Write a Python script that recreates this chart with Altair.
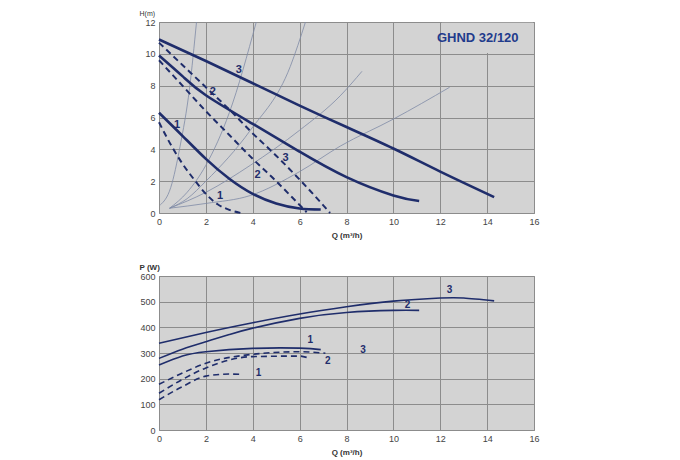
import altair as alt
import pandas as pd

# ---------------- top chart: H (m) vs Q (m3/h) ----------------
h3_q = [0, 2, 4, 6, 8, 10, 12, 14.3]
h3_h = [10.9, 9.55, 8.15, 6.75, 5.4, 4.05, 2.6, 1.0]
h2_q = [0, 1, 2, 4, 6, 8, 10, 11.1]
h2_h = [9.9, 8.6, 7.4, 5.6, 3.85, 2.25, 1.1, 0.75]
h1_q = [0, 1, 2, 3, 4, 5, 6, 6.9]
h1_h = [6.3, 4.85, 3.4, 2.15, 1.2, 0.6, 0.28, 0.22]

hd3_q = [0, 1, 2, 3, 4, 5, 6, 7, 7.3]
hd3_h = [10.7, 9.3, 7.9, 6.5, 5.0, 3.6, 2.1, 0.5, 0.0]
hd2_q = [0, 1, 2, 3, 4, 5, 6, 6.3]
hd2_h = [9.6, 8.0, 6.4, 4.9, 3.4, 2.0, 0.5, 0.05]
hd1_q = [0, 0.5, 1, 1.5, 2, 2.5, 3, 3.5]
hd1_h = [5.7, 4.3, 3.1, 2.1, 1.2, 0.55, 0.2, 0.0]

# thin system curves
sa_q = [0.05, 0.5, 0.9, 1.3, 1.6]
sa_h = [0.5, 1.6, 4.2, 7.8, 12.0]
sb_q = [0.45, 1.2, 2.0, 3.0, 4.15]
sb_h = [0.3, 1.3, 3.0, 6.3, 12.0]
sc_q = [0.45, 1.2, 2.0, 3.9, 5.6, 6.25]
sc_h = [0.3, 0.9, 2.0, 5.2, 9.2, 12.0]
sd_q = [0.45, 2.0, 3.9, 6.0, 7.73, 8.66]
sd_h = [0.3, 1.3, 3.0, 5.2, 7.36, 8.9]
se_q = [0.45, 2.0, 3.9, 6.0, 7.73, 10.0, 12.4]
se_h = [0.3, 0.6, 1.1, 2.6, 4.2, 5.9, 7.9]

top_lab_text = ["3", "2", "1", "3", "2", "1"]
top_lab_q = [3.4, 2.3, 0.77, 5.4, 4.2, 2.6]
top_lab_h = [9.0, 7.6, 5.5, 3.45, 2.4, 1.07]

# ---------------- bottom chart: P (W) vs Q ----------------
p3_q = [0, 2, 4, 6, 8, 10, 12, 13, 14.3]
p3_p = [338, 380, 418, 452, 480, 502, 514, 514, 503]
p2_q = [0, 1, 2, 3, 4, 6, 8, 10, 11.1]
p2_p = [279, 315, 344, 372, 397, 435, 458, 466, 466]
p1_q = [0, 1, 2, 4, 6, 6.9]
p1_p = [253, 288, 305, 318, 319, 313]
pd3_q = [0, 1, 2, 4, 6, 7.1]
pd3_p = [178, 222, 260, 295, 305, 299]
pd2_q = [0, 1, 2, 4, 6, 6.3]
pd2_p = [143, 197, 242, 286, 288, 283]
pd1_q = [0, 1, 2, 3, 3.5]
pd1_p = [118, 169, 210, 218, 217]

bot_lab_text = ["3", "2", "1", "2", "3", "1"]
bot_lab_q = [12.4, 10.6, 6.45, 7.2, 8.7, 4.25]
bot_lab_p = [545, 487, 350, 270, 312, 223]

NAVY = "#1f2d6b"
THIN = "#7f8aa6"
BG = "#d3d3d3"
GRID = "#8c8c8c"
FONT = "Liberation Sans"


def frame(series, xname, yname):
    rows = []
    for name, xs, ys in series:
        for a, b in zip(xs, ys):
            rows.append({xname: a, yname: b, "curve": name})
    return pd.DataFrame(rows)


top_solid = frame([("3", h3_q, h3_h), ("2", h2_q, h2_h), ("1", h1_q, h1_h)], "Q", "H")
top_dash = frame([("3", hd3_q, hd3_h), ("2", hd2_q, hd2_h), ("1", hd1_q, hd1_h)], "Q", "H")
top_thin = frame([("a", sa_q, sa_h), ("b", sb_q, sb_h), ("c", sc_q, sc_h),
                  ("d", sd_q, sd_h), ("e", se_q, se_h)], "Q", "H")
top_labels = pd.DataFrame({"t": top_lab_text, "Q": top_lab_q, "H": top_lab_h})

xt = alt.X("Q:Q", scale=alt.Scale(domain=[0, 16], nice=False),
           axis=alt.Axis(values=list(range(0, 17, 2)), title="Q (m³/h)"))
yt = alt.Y("H:Q", scale=alt.Scale(domain=[0, 12], nice=False),
           axis=alt.Axis(values=list(range(0, 13, 2)), title="H(m)",
                         titleAngle=0, titleAlign="left", titleBaseline="bottom",
                         titleX=-20, titleY=-6, titleFontSize=7, titleFontWeight="normal"))

box = alt.Chart(pd.DataFrame({"Q": [12.06], "Q2": [15.96], "H": [10.06], "H2": [11.96]})).mark_rect(
    color=BG).encode(x=xt, x2="Q2:Q", y=yt, y2="H2:Q")
box_text = alt.Chart(pd.DataFrame({"t": ["GHND 32/120"], "Q": [13.6], "H": [11.0]})).mark_text(
    font=FONT, fontSize=13, fontWeight="bold", color="#1f3b8c").encode(x=xt, y=yt, text="t:N")

thin = alt.Chart(top_thin).mark_line(color=THIN, strokeWidth=0.8, interpolate="monotone").encode(
    x=xt, y=yt, detail="curve:N")
solid = alt.Chart(top_solid).mark_line(color=NAVY, strokeWidth=2.6, interpolate="natural").encode(
    x=xt, y=yt, detail="curve:N")
dash = alt.Chart(top_dash).mark_line(color=NAVY, strokeWidth=2, strokeDash=[6, 4],
                                     interpolate="monotone").encode(x=xt, y=yt, detail="curve:N")
tlab = alt.Chart(top_labels).mark_text(font=FONT, fontSize=11, fontWeight="bold", color=NAVY).encode(
    x=xt, y=yt, text="t:N")

top = alt.layer(thin, solid, dash, box, box_text, tlab).properties(width=375, height=191)

bot_solid = frame([("3", p3_q, p3_p), ("2", p2_q, p2_p), ("1", p1_q, p1_p)], "Q", "P")
bot_dash = frame([("3", pd3_q, pd3_p), ("2", pd2_q, pd2_p), ("1", pd1_q, pd1_p)], "Q", "P")
bot_labels = pd.DataFrame({"t": bot_lab_text, "Q": bot_lab_q, "P": bot_lab_p})

xb = alt.X("Q:Q", scale=alt.Scale(domain=[0, 16], nice=False),
           axis=alt.Axis(values=list(range(0, 17, 2)), title="Q (m³/h)"))
yb = alt.Y("P:Q", scale=alt.Scale(domain=[0, 600], nice=False),
           axis=alt.Axis(values=list(range(0, 601, 100)), title="P (W)",
                         titleAngle=0, titleAlign="left", titleBaseline="bottom",
                         titleX=-20, titleY=-5))

bsolid = alt.Chart(bot_solid).mark_line(color=NAVY, strokeWidth=1.6, interpolate="natural").encode(
    x=xb, y=yb, detail="curve:N")
bdash = alt.Chart(bot_dash).mark_line(color=NAVY, strokeWidth=1.6, strokeDash=[6, 4],
                                      interpolate="monotone").encode(x=xb, y=yb, detail="curve:N")
blab = alt.Chart(bot_labels).mark_text(font=FONT, fontSize=10, fontWeight="bold", color=NAVY).encode(
    x=xb, y=yb, text="t:N")

bottom = alt.layer(bsolid, bdash, blab).properties(width=375, height=154)

chart = alt.vconcat(top, bottom, spacing=22).properties(
    padding={"left": 130, "top": 0, "right": 5, "bottom": 0}
).configure_view(fill=BG, stroke=GRID, strokeWidth=1).configure_axis(
    labelFont=FONT, labelFontSize=9, labelColor="#444", ticks=False, domain=False,
    grid=True, gridColor=GRID, gridOpacity=1, gridWidth=1, labelPadding=4,
    labelOverlap=False, labelFlush=False,
    titleFont=FONT, titleFontSize=8, titleFontWeight="bold", titleColor="#333"
).configure_axisX(titlePadding=5)

chart.save("out.html", embed_options={"renderer": "svg", "actions": False})
